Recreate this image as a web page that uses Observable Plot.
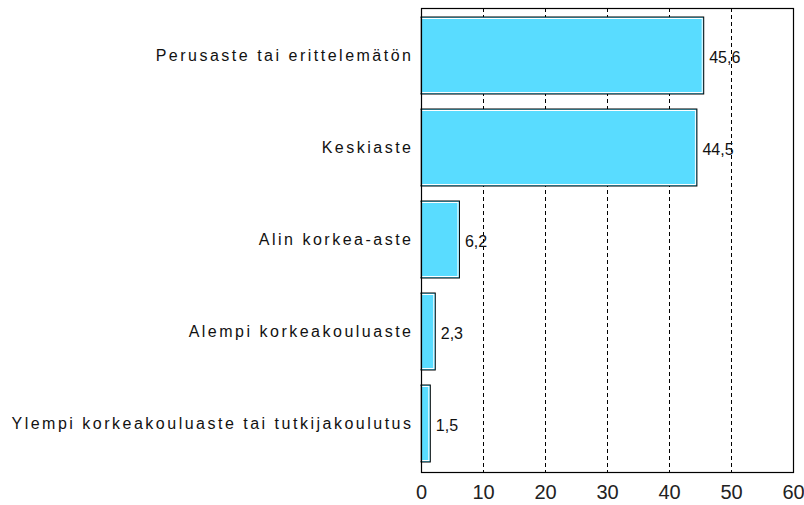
<!DOCTYPE html>
<html>
<head>
<meta charset="utf-8">
<script src="https://cdn.jsdelivr.net/npm/d3@7"></script>
<script src="https://cdn.jsdelivr.net/npm/@observablehq/plot@0.6"></script>
<style>
  html, body { margin: 0; padding: 0; background: #fff; }
  #chart { width: 804px; height: 505px; }
</style>
</head>
<body>
<div id="chart"></div>
<script>
const categories = [
  "Perusaste tai erittelemätön",
  "Keskiaste",
  "Alin korkea-aste",
  "Alempi korkeakouluaste",
  "Ylempi korkeakouluaste tai tutkijakoulutus"
];
const values = [45.6, 44.5, 6.2, 2.3, 1.5];
const xTicks = [0, 10, 20, 30, 40, 50, 60];
const gridTicks = [10, 20, 30, 40, 50];

const data = categories.map((c, i) => ({category: c, value: values[i]}));
const fmt = v => String(v.toFixed(1)).replace(".", ",");
const font = "Liberation Sans, Arial, sans-serif";

const chart = Plot.plot({
  width: 804,
  height: 505,
  marginLeft: 421,
  marginRight: 11,
  marginTop: 8,
  marginBottom: 33,
  style: {fontFamily: font, background: "#fff", color: "#1a1a1a"},
  x: {domain: [0, 60], ticks: xTicks},
  y: {domain: categories, paddingInner: 0.16, paddingOuter: 0.08},
  marks: [
    Plot.ruleX(gridTicks, {stroke: "#000", strokeDasharray: "4,3", strokeWidth: 1}),
    Plot.barX(data, {x: "value", y: "category", fill: "#59DCFF", stroke: "#000", strokeWidth: 1}),
    Plot.barX(data, {x: "value", y: "category", fill: "none", stroke: "#fff", strokeWidth: 1, insetRight: 1.5, insetBottom: 1.5, insetTop: 1.5, insetLeft: 0}),
    Plot.text(data, {x: "value", y: "category", text: d => fmt(d.value), textAnchor: "start", dx: 5, dy: 2, fontSize: 16, fill: "#111"}),
    Plot.frame({stroke: "#000", strokeWidth: 1.2}),
    Plot.axisX(xTicks, {tickSize: 0, tickPadding: 12, fontSize: 20, fill: "#222", label: null}),
    Plot.axisY({tickSize: 0, tickPadding: 8, fontSize: 16, fill: "#111", label: null})
  ]
});

d3.select(chart).selectAll("g[aria-label='y-axis tick label'] text").style("letter-spacing", "2.5px");
document.getElementById("chart").appendChild(chart);
</script>
</body>
</html>
